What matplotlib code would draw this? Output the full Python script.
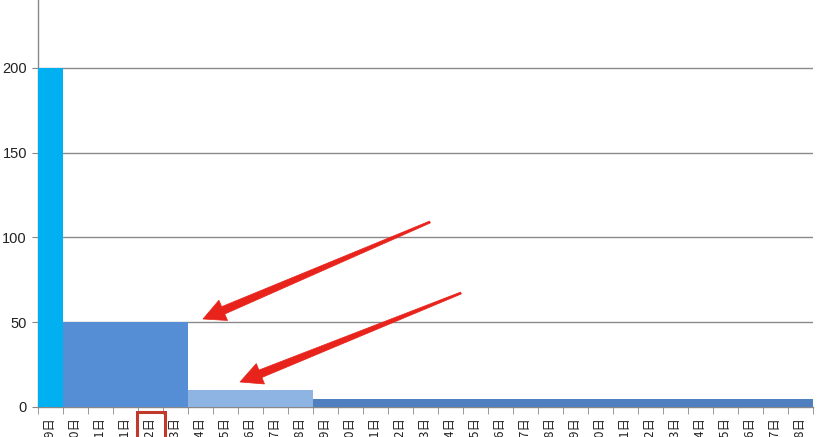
import matplotlib
matplotlib.use("Agg")
import matplotlib.pyplot as plt
from matplotlib.patches import Polygon, Rectangle
import numpy as np

plt.rcParams['font.family'] = ['Liberation Sans', 'Noto Sans CJK SC', 'DejaVu Sans']

# ---- data ----
dates = (["3月29日", "3月30日", "3月31日"] +
         [f"4月{d}日" for d in range(1, 29)])
values = [200] + [50] * 5 + [10] * 5 + [5] * 20
colors = (["#00B0F0"] + ["#558ED5"] * 5 + ["#8DB4E2"] * 5 + ["#4F7FBE"] * 20)
yticks = [0, 50, 100, 150, 200]

W, H = 826, 437
fig = plt.figure(figsize=(W / 100, H / 100), dpi=100)
ax = fig.add_axes([38 / W, (H - 407) / H, (813 - 38) / W, 407 / H])

x = np.arange(len(dates))
ax.bar(x, values, width=1.0, color=colors, linewidth=0, zorder=3)

ax.set_xlim(-0.5, len(dates) - 0.5)
ax.set_ylim(0, 240)
ax.set_yticks(yticks)
ax.set_yticklabels([str(v) for v in yticks], fontsize=10.5, color="#222222")
ax.tick_params(axis='y', length=4, color="#888888", pad=4)
ax.yaxis.grid(True, color="#8a8a8a", linewidth=1.0, zorder=0)
ax.set_axisbelow(True)

ax.set_xticks(x)
ax.set_xticklabels(dates, rotation=90, fontsize=9, va='top', ha='center',
                   family=['Noto Sans CJK SC', 'DejaVu Sans'], color="#222222")
ax.tick_params(axis='x', which='major', length=0, pad=7)
ax.set_xticks(np.arange(-0.5, len(dates), 1.0), minor=True)
ax.tick_params(axis='x', which='minor', length=5, color="#888888")

for s in ['top', 'right']:
    ax.spines[s].set_visible(False)
for s in ['left', 'bottom']:
    ax.spines[s].set_color("#888888")
    ax.spines[s].set_linewidth(1.0)


def px_to_fig(px, py):
    return px / W, (H - py) / H


def arrow(tail, head, shaft_w=8, head_w=22, head_l=22, color="#E8231B"):
    T = np.array(tail, float)
    Hd = np.array(head, float)
    d = Hd - T
    d /= np.linalg.norm(d)
    n = np.array([-d[1], d[0]])
    B = Hd - d * head_l
    pts = [T + n * 1.0, B + n * shaft_w / 2, B + n * head_w / 2, Hd,
           B - n * head_w / 2, B - n * shaft_w / 2, T - n * 1.0]
    pts = [px_to_fig(*p) for p in pts]
    fig.patches.append(Polygon(pts, closed=True, transform=fig.transFigure,
                               facecolor=color, edgecolor=color, linewidth=0.5,
                               zorder=10))


arrow((430, 222), (203, 319))
arrow((461, 293), (240, 382))

# red highlight box around a tick label
x0, y0 = px_to_fig(137, 440)
x1, y1 = px_to_fig(165, 412)
fig.patches.append(Rectangle((x0, y0), x1 - x0, y1 - y0, transform=fig.transFigure,
                             fill=False, edgecolor="#C0392B", linewidth=2.2, zorder=10))

fig.savefig("out.png", dpi=100)
